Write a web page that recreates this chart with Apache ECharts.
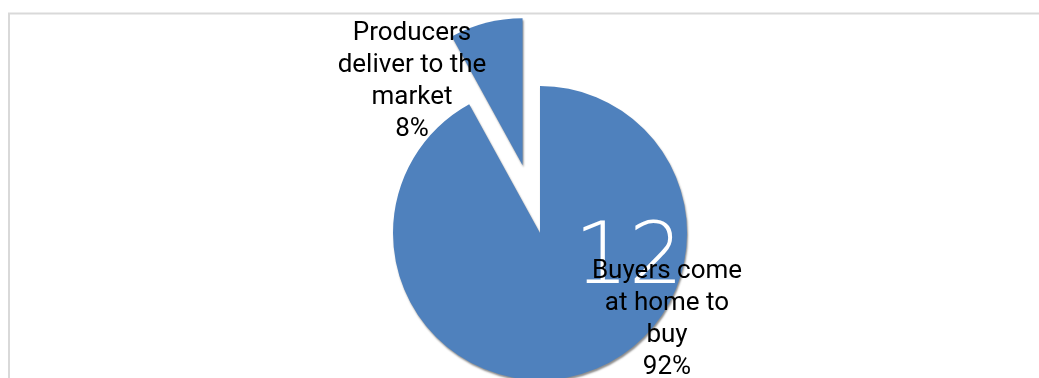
<!DOCTYPE html>
<html>
<head>
<meta charset="utf-8">
<script src="https://cdn.jsdelivr.net/npm/echarts@6/dist/echarts.min.js"></script>
<style>
  html, body { margin: 0; padding: 0; background: #ffffff; }
  #chart { width: 1039px; height: 378px; }
</style>
</head>
<body>
<div id="chart"></div>
<script>
// Share of sales by delivery channel
const categories = ['Buyers come\nat home to\nbuy', 'Producers\ndeliver to the\nmarket'];
const shares = [92, 8];
const pulledOut = [false, true];

const CX = 540, CY = 233, R = 147;
const sliceColor = '#4F81BD';

// label block centres, relative to the pie centre
const labelOffsets = [[127, 86], [-128, -152]];

const chart = echarts.init(document.getElementById('chart'), null, { renderer: 'canvas' });

const labelTexts = categories.map((c, i) => ({
  type: 'text',
  silent: true,
  z: 110,
  x: CX + labelOffsets[i][0],
  y: CY + labelOffsets[i][1],
  style: {
    text: c + '\n' + shares[i] + '%',
    fill: '#000000',
    font: '26px Roboto',
    lineHeight: 32,
    align: 'center',
    verticalAlign: 'middle'
  }
}));

chart.setOption({
  animation: false,
  backgroundColor: '#ffffff',
  graphic: [
    {
      type: 'polyline',
      silent: true,
      z: 0,
      shape: { points: [[9, 378], [9, 13.5], [1039, 13.5]] },
      style: { stroke: '#d9d9d9', lineWidth: 2, fill: null }
    },
    {
      type: 'text',
      silent: true,
      z: 100,
      x: 574,
      y: 218,
      style: {
        text: '12',
        fill: '#ffffff',
        font: '200 86px "DejaVu Sans"'
      }
    }
  ].concat(labelTexts),
  series: [{
    type: 'pie',
    center: [CX, CY],
    radius: [0, R],
    startAngle: 90,
    clockwise: true,
    selectedMode: 'multiple',
    selectedOffset: 70,
    avoidLabelOverlap: false,
    itemStyle: {
      color: sliceColor,
      borderWidth: 0,
      shadowColor: 'rgba(0,0,0,0.45)',
      shadowBlur: 2,
      shadowOffsetX: 1,
      shadowOffsetY: 2
    },
    label: { show: false },
    labelLine: { show: false },
    emphasis: { disabled: true },
    data: categories.map((c, i) => ({ name: c, value: shares[i], selected: pulledOut[i] }))
  }]
});
</script>
</body>
</html>
